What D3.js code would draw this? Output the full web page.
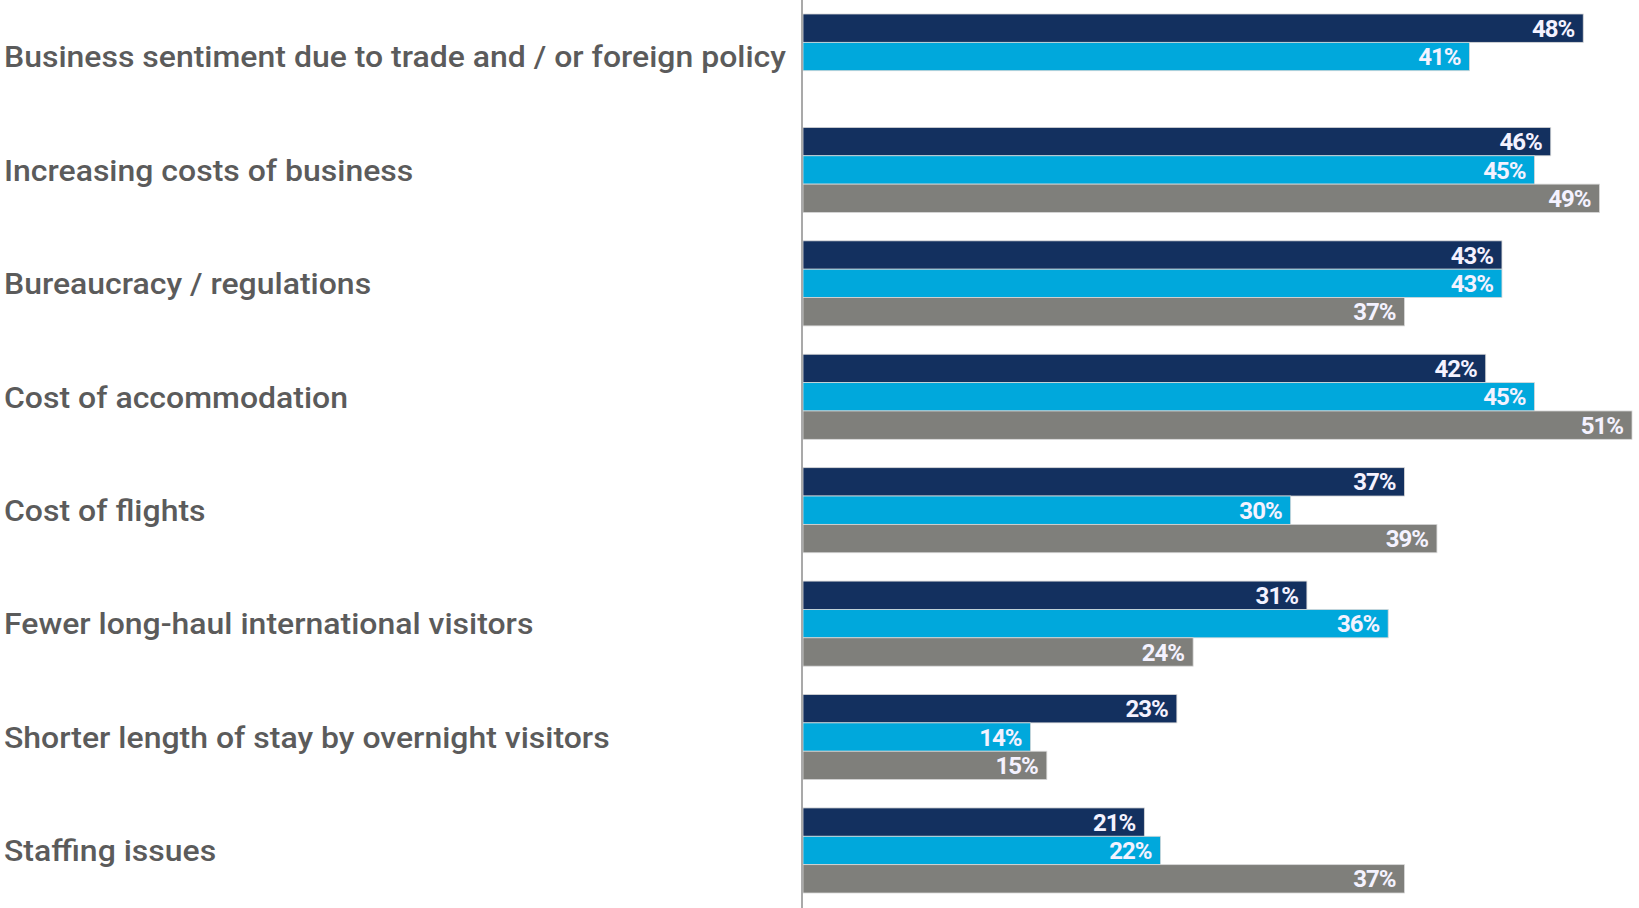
<!DOCTYPE html>
<html>
<head>
<meta charset="utf-8">
<script src="https://cdn.jsdelivr.net/npm/d3@7"></script>
<style>
  body { margin: 0; background: #fff; }
  .label { font-family: Roboto, "Liberation Sans", sans-serif; font-weight: 500; fill: #5b5b5b; }
  .value { font-family: Roboto, "Liberation Sans", sans-serif; font-weight: 700; fill: #f4f2ff; }
</style>
</head>
<body>
<div id="chart"></div>
<script>
// Chart data.
const categories = [
  "Business sentiment due to trade and / or foreign policy",
  "Increasing costs of business",
  "Bureaucracy / regulations",
  "Cost of accommodation",
  "Cost of flights",
  "Fewer long-haul international visitors",
  "Shorter length of stay by overnight visitors",
  "Staffing issues"
];
const seriesNames = ["s1", "s2", "s3"];
const s1Values = [48, 46, 43, 42, 37, 31, 23, 21];
const s2Values = [41, 45, 43, 45, 30, 36, 14, 22];
const s3Values = [null, 49, 37, 51, 39, 24, 15, 37];
const seriesColors = ["#13305f", "#00a8dc", "#7f7f7b"];

// Size.
const width = 1639;
const height = 908;
const axisX = 802;
const barsTop = 14;
const barsBottom = 893;

const rows = categories.map((c, i) => ({
  category: c,
  values: [s1Values[i], s2Values[i], s3Values[i]]
}));

const svg = d3.select("#chart")
  .append("svg")
  .attr("width", width)
  .attr("height", height);

// Scales.
const xScale = d3.scaleLinear()
  .domain([0, 51])
  .range([axisX + 1, 1632]);

const yScale = d3.scaleBand()
  .domain(categories)
  .range([barsTop, barsBottom])
  .paddingInner(0.25)
  .paddingOuter(0);

const ySub = d3.scaleBand()
  .domain(seriesNames)
  .range([0, yScale.bandwidth()]);

const colorScale = d3.scaleOrdinal()
  .domain(seriesNames)
  .range(seriesColors);

// Bars.
const groups = svg.selectAll("g.group")
  .data(rows)
  .enter()
  .append("g")
  .attr("class", "group")
  .attr("transform", (d) => `translate(0,${yScale(d.category)})`);

const cells = groups.selectAll("g.cell")
  .data((d) => d.values
    .map((v, i) => ({ key: seriesNames[i], value: v }))
    .filter((d) => d.value !== null))
  .enter()
  .append("g")
  .attr("class", "cell");

cells.append("rect")
  .attr("x", xScale(0))
  .attr("y", (d) => ySub(d.key))
  .attr("width", (d) => xScale(d.value) - xScale(0))
  .attr("height", ySub.bandwidth())
  .attr("fill", (d) => colorScale(d.key))
  .attr("stroke", "#d8d8d8")
  .attr("stroke-width", 0.8);

cells.append("text")
  .attr("class", "value")
  .attr("x", (d) => xScale(d.value) - 9)
  .attr("y", (d) => ySub(d.key) + ySub.bandwidth() / 2)
  .attr("dy", "0.36em")
  .attr("text-anchor", "end")
  .attr("font-size", 24)
  .attr("letter-spacing", -1)
  .text((d) => `${d.value}%`);

// Vertical axis line.
svg.append("line")
  .attr("x1", axisX).attr("x2", axisX)
  .attr("y1", 0).attr("y2", height)
  .attr("stroke", "#a9a9a9")
  .attr("stroke-width", 2);

// Category labels, squeezed to the condensed look of the original.
const labels = svg.selectAll("text.label")
  .data(categories)
  .enter()
  .append("text")
  .attr("class", "label")
  .attr("font-size", 30)
  .attr("x", 0)
  .attr("y", 0)
  .attr("dy", "0.36em")
  .text((d) => d);

const firstWidth = labels.node().getComputedTextLength();
const squeeze = 782 / firstWidth;
labels.attr("transform", (d) =>
  `translate(4,${yScale(d) + yScale.bandwidth() / 2}) scale(${squeeze},1)`);
</script>
</body>
</html>
